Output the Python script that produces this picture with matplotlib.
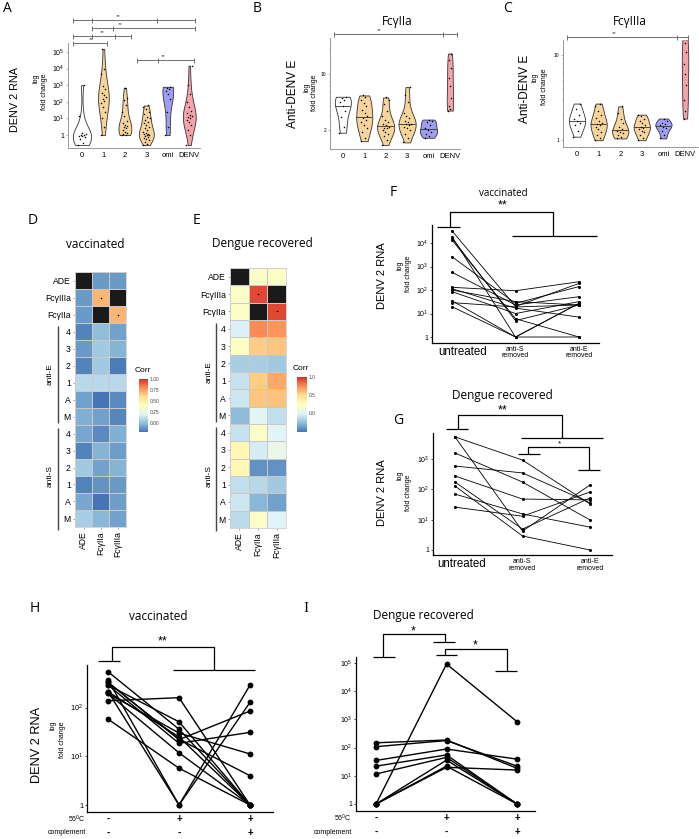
import numpy as np
import matplotlib
matplotlib.use('Agg')
import matplotlib.pyplot as plt
from matplotlib.lines import Line2D
from matplotlib.colors import LinearSegmentedColormap
from matplotlib.transforms import blended_transform_factory

plt.rcParams['font.family'] = ['Liberation Sans', 'DejaVu Sans']
plt.rcParams['mathtext.fontset'] = 'custom'
plt.rcParams['mathtext.rm'] = 'Liberation Sans'
plt.rcParams['mathtext.it'] = 'Liberation Sans:italic'

# ---------------- datos ----------------
grupos = ['0', '1', '2', '3', 'omi', 'DENV']

# A: DENV 2 RNA (fold change)
a_0 = [0.25, 0.35, 0.6, 0.75, 0.85, 0.9, 1.0, 1.0, 1.1, 1.3, 15, 1000]
a_1 = [1, 3, 10, 25, 50, 80, 110, 150, 200, 260, 350, 600, 900, 4500, 9000, 150000]
a_2 = [1, 1, 1.1, 1.3, 1.6, 2, 2.5, 3, 3.5, 4, 5, 7, 15, 25, 60, 120, 160, 700]
a_3 = [0.25, 0.3, 0.4, 0.5, 0.6, 0.7, 0.8, 0.9, 1, 1, 1.1, 1.2, 1.4, 1.6, 2, 2.5,
       3, 4, 5, 6, 8, 10, 13, 18, 25, 35, 50, 60]
a_omi = [1, 3, 25, 150, 300, 450, 600, 700, 800]
a_denv = [0.25, 1, 2, 4, 6, 8, 10, 12, 14, 16, 20, 30, 50, 100, 300, 1100, 15000]

# B: anti-DENV E, FcyIIa
b_0 = [1.85, 2.2, 2.9, 3.5, 4.0, 4.5, 4.8, 5.0, 5.2]
b_1 = [1.45, 1.6, 1.9, 2.1, 2.3, 2.5, 2.7, 2.8, 3.0, 3.3, 3.6, 4.0, 4.4, 4.8, 5.2, 5.4]
b_2 = [1.3, 1.5, 1.7, 1.8, 1.9, 2.0, 2.1, 2.15, 2.2, 2.3, 2.4, 2.5, 2.7, 3.0, 3.5, 4.2, 4.8, 5.1]
b_3 = [1.4, 1.6, 1.8, 2.0, 2.1, 2.2, 2.3, 2.35, 2.4, 2.5, 2.6, 2.8, 3.0, 3.3, 4.5, 5.5, 6.9]
b_omi = [1.6, 1.7, 1.8, 1.9, 2.0, 2.1, 2.3, 2.5, 2.6, 2.7]
b_denv = [3.5, 3.7, 4.0, 5.0, 7.0, 9.0, 12.0, 15.0, 18.0]

# C: anti-DENV E, FcyIIIa
c_0 = [1.1, 1.3, 1.5, 1.6, 1.7, 1.8, 2.0, 2.3, 2.7]
c_1 = [1.0, 1.05, 1.15, 1.25, 1.35, 1.45, 1.5, 1.55, 1.6, 1.7, 1.85, 2.0, 2.2, 2.5, 2.7]
c_2 = [1.05, 1.1, 1.15, 1.2, 1.25, 1.3, 1.35, 1.45, 1.6, 1.8, 2.1, 2.5]
c_3 = [1.0, 1.05, 1.15, 1.25, 1.3, 1.35, 1.4, 1.45, 1.5, 1.6, 1.7, 1.8, 1.95, 2.0]
c_omi = [1.05, 1.15, 1.3, 1.4, 1.45, 1.5, 1.55, 1.6, 1.7, 1.8]
c_denv = [1.8, 2.2, 3.0, 4.5, 6.0, 8.0, 11.0, 14.0, 15.5]

# D / E: correlaciones (NaN = diagonal negra)
filas_heat = ['ADE', 'FcγIIIa', 'FcγIIa', '4', '3', '2', '1', 'A', 'M',
              '4', '3', '2', '1', 'A', 'M']
cols_heat = ['ADE', 'FcγIIa', 'FcγIIIa']
nan = np.nan
corr_vac = [[nan, -0.1, -0.1],
            [-0.1, 0.7, nan],
            [-0.1, nan, 0.7],
            [-0.16, 0.0, -0.08],
            [-0.1, 0.04, -0.03],
            [-0.16, 0.04, -0.18],
            [0.1, 0.1, 0.1],
            [-0.08, -0.2, -0.14],
            [-0.04, -0.08, -0.15],
            [-0.06, -0.14, -0.04],
            [-0.16, -0.03, -0.09],
            [0.04, -0.08, -0.03],
            [-0.16, -0.12, -0.1],
            [-0.06, -0.2, -0.09],
            [0.06, -0.02, -0.08]]
corr_den = [[nan, 0.2, 0.2],
            [0.2, 0.93, nan],
            [0.2, nan, 0.93],
            [-0.03, 0.75, 0.72],
            [0.22, 0.55, 0.57],
            [-0.2, -0.2, -0.22],
            [-0.1, 0.55, 0.66],
            [-0.08, 0.57, 0.58],
            [-0.28, 0.0, -0.12],
            [-0.1, 0.2, 0.0],
            [0.3, -0.05, 0.05],
            [0.3, -0.43, -0.43],
            [-0.12, -0.15, -0.22],
            [-0.08, -0.3, -0.38],
            [-0.14, 0.2, -0.02]]
sig_celdas = [(1, 1), (2, 2)]

# F / G: remocion de anticuerpos
trat = ['untreated', 'anti-S\nremoved', 'anti-E\nremoved']
f_untreated = [33000, 18600, 16000, 13400, 2600, 570, 130, 114, 100, 85, 35, 29, 19.5]
f_antiS = [20, 1, 5, 6, 27, 23, 93, 17, 32, 10, 1, 19, 1]
f_antiE = [190, 27, 23, 1, 140, 52, 225, 7, 23, 32, 27, 23, 1]
g_untreated = [5400, 5400, 1590, 590, 277, 175, 129, 70, 26]
g_antiS = [930, 4.2, 175, 350, 48, 4.9, 2.9, 15.5, 13]
g_antiE = [33, 140, 9.8, 36, 45, 52, 1, 5.7, 82]

# H / I: 56C y complemento
fila_56 = ['-', '+', '+']
fila_comp = ['-', '-', '+']
h_ctrl = [545, 370, 330, 290, 290, 212, 195, 195, 138, 330, 58, 212]
h_56 = [36, 1, 22, 51, 18.5, 1, 30, 11.8, 160, 22.4, 5.7, 25]
h_comp = [1, 290, 85, 1, 31, 128, 11.2, 1, 1, 4, 1, 1]
i_ctrl = [1, 148, 108, 35, 22, 11.6, 1, 1, 1]
i_56 = [92000, 186, 178, 89, 55, 45, 22, 36, 20]
i_comp = [830, 18.5, 22, 39, 1, 1, 1, 1, 16]

# ---------------- figura ----------------
W, H = 699, 839
fig = plt.figure(figsize=(W / 100, H / 100), dpi=100)


def px_axes(l, t, r, b):
    return fig.add_axes([l / W, 1 - b / H, (r - l) / W, (b - t) / H])


def ftext(x, y, s, **kw):
    kw.setdefault('ha', 'center')
    kw.setdefault('va', 'center')
    fig.text(x / W, 1 - y / H, s, **kw)


def fline(xs, ys, color='k', lw=0.9):
    fig.add_artist(Line2D([x / W for x in xs], [1 - y / H for y in ys],
                          color=color, lw=lw, solid_capstyle='butt'))


def barra_gris(y, x0, x1, marcas, star_x):
    fline([x0, x1], [y, y], color='#707070', lw=0.7)
    for m in marcas:
        fline([m, m], [y - 2.5, y + 2.5], color='#707070', lw=0.7)
    ftext(star_x, y - 3, '**', fontsize=4.5, color='#555555')


def sup(n):
    return '1' if n == 0 else r'$\mathregular{10^{%d}}$' % n


def ylab3(x, y, big, fs_big, dx1, dx2, y1, y2, fs_small=5):
    ftext(x, y, big, rotation=90, fontsize=fs_big)
    ftext(x + dx1, y1, 'log', rotation=90, fontsize=fs_small)
    ftext(x + dx2, y2, 'fold change', rotation=90, fontsize=fs_small)


col_vio = ['white', '#f6d49a', '#f6d49a', '#f6d49a', '#9e9ef2', '#f4a3ab']


def violines(ax, datos, anchos, medianas):
    logd = [np.log10(d) for d in datos]
    pos = np.arange(len(datos))
    parts = ax.violinplot(logd, positions=pos, widths=anchos, showextrema=False)
    for body, c in zip(parts['bodies'], col_vio):
        body.set_facecolor(c)
        body.set_edgecolor('#333333')
        body.set_linewidth(0.6)
        body.set_alpha(1)
    for i, (body, d) in enumerate(zip(parts['bodies'], logd)):
        if medianas and i < 5:
            ln, = ax.plot([i - 0.6, i + 0.6], [np.median(d)] * 2, color='#333333', lw=0.6)
            ln.set_clip_path(body.get_paths()[0], ax.transData)
        off = ((np.arange(len(d)) * 0.618) % 1 - 0.5) * anchos[i] * 0.45
        ax.scatter(i + off, d, s=1.2, color='k', zorder=3, linewidths=0)
    ax.set_xticks(pos, grupos)
    for s in ['top', 'right']:
        ax.spines[s].set_visible(False)
    for s in ['left', 'bottom']:
        ax.spines[s].set_color('#888888')
        ax.spines[s].set_linewidth(0.6)
    ax.tick_params(axis='x', length=0, labelsize=5.5, pad=3)
    ax.tick_params(axis='y', length=1.5, width=0.4, color='#888888', pad=1)
    ax.tick_params(axis='y', which='minor', length=1, width=0.3, color='#888888')


# ---- A ----
axA = px_axes(68, 43, 200, 148)
violines(axA, [a_0, a_1, a_2, a_3, a_omi, a_denv], [0.85, 0.5, 0.6, 0.7, 0.5, 0.6], False)
axA.set_xlim(-0.65, 5.5)
axA.set_ylim(-0.78, 5.54)
axA.set_yticks(range(6), [sup(n) for n in range(6)])
axA.tick_params(axis='y', labelsize=5)
ftext(7, 9, 'A', fontsize=10, family='Open Sans')
ylab3(15, 100, 'DENV 2 RNA', 7.8, 21, 29, 78, 92)
barra_gris(20, 73, 195, [73, 92, 157, 195], 118)
barra_gris(28, 92, 195, [92, 113, 195], 120)
barra_gris(36, 73, 131, [73, 92, 115, 131], 102)
barra_gris(43, 73, 107, [73, 107], 91)
barra_gris(60, 137, 194, [137, 158, 194], 163)

# ---- B ----
axB = px_axes(330, 38, 460, 149)
violines(axB, [b_0, b_1, b_2, b_3, b_omi, b_denv], [0.75, 0.75, 0.8, 0.8, 0.8, 0.3], True)
axB.set_xlim(-0.6, 5.47)
axB.set_ylim(0.064, 1.45)
axB.set_yticks([np.log10(2), 1], ['2', '10'])
axB.set_yticks(np.log10([2, 3, 4, 5, 6, 7, 8, 9, 20]), minor=True)
axB.tick_params(axis='y', labelsize=3.5)
ftext(257, 8, 'B', fontsize=10, family='Open Sans')
ftext(397, 21, 'FcγIIa', fontsize=8.5, family='Open Sans')
ylab3(293, 94, 'Anti-DENV E', 8.5, 14, 22, 87, 93)
barra_gris(34, 334, 457, [334, 443, 457], 379)

# ---- C ----
axC = px_axes(563, 40, 698, 147)
violines(axC, [c_0, c_1, c_2, c_3, c_omi, c_denv], [0.75, 0.75, 0.75, 0.75, 0.75, 0.3], True)
axC.set_xlim(-0.65, 5.6)
axC.set_ylim(-0.08, 1.18)
axC.set_yticks([0, 1], ['1', '10'])
axC.set_yticks(np.log10([2, 3, 4, 5, 6, 7, 8, 9]), minor=True)
axC.tick_params(axis='y', labelsize=3.5)
ftext(507, 8, 'C', fontsize=10, family='Open Sans')
ftext(630, 22, 'FcγIIIa', fontsize=8.5, family='Open Sans')
ylab3(525, 89, 'Anti-DENV E', 8.5, 10, 20, 77, 87)
barra_gris(37, 567, 688, [567, 677, 688], 614)

# ---- D / E heatmaps ----
cmap = LinearSegmentedColormap.from_list(
    'corr', ['#4575b4', '#91bfdb', '#e0f3f8', '#ffffbf', '#fee090', '#fc8d59', '#d73027'])
cmap.set_bad('#1a1a1a')


def heatmap(box, valores, vmin, vmax, cbox, cticks, clabels, xline, xlab):
    ax = px_axes(*box)
    data = np.ma.masked_invalid(np.array(valores, float))
    m = ax.pcolormesh(data, cmap=cmap, vmin=vmin, vmax=vmax,
                      edgecolors='#c8c8c8', linewidth=0.4)
    for r, c in sig_celdas:
        ax.scatter(c + 0.5, r + 0.5, s=1.2, color='k', linewidths=0, zorder=3)
    ax.set_xlim(0, 3)
    ax.set_ylim(15, 0)
    ax.set_xticks(np.arange(3) + 0.5, cols_heat, rotation=90)
    ax.set_yticks(np.arange(15) + 0.5, filas_heat)
    ax.tick_params(labelsize=6.2, length=1.5, width=0.4, color='#666666', pad=1.5)
    for s in ax.spines.values():
        s.set_color('#d0d0d0')
        s.set_linewidth(0.6)
    cax = px_axes(*cbox)
    cb = fig.colorbar(m, cax=cax)
    cb.outline.set_visible(False)
    cb.set_ticks(cticks, labels=clabels)
    cax.tick_params(labelsize=3.5, length=0, pad=1.5, labelcolor='#444444')
    ftext((cbox[0] + cbox[2]) / 2 - 1, cbox[1] - 8, 'Corr', fontsize=6)
    top, bot = box[1], box[3]
    rh = (bot - top) / 15
    fline([xline, xline], [top + 3 * rh + 3, top + 9 * rh - 2], color='#444444', lw=1.0)
    fline([xline, xline], [top + 9 * rh + 3, top + 15 * rh + 3], color='#444444', lw=1.0)
    ftext(xlab, top + 6 * rh, 'anti-E', rotation=90, fontsize=6)
    ftext(xlab, top + 12 * rh, 'anti-S', rotation=90, fontsize=6)
    return ax


heatmap((75, 272, 126, 527), corr_vac, -0.2, 1.0, (139, 379, 148, 432),
        [0, 0.25, 0.5, 0.75, 1.0], ['0.00', '0.25', '0.50', '0.75', '1.00'], 58, 50)
heatmap((230, 268, 286, 528), corr_den, -0.53, 1.0, (297, 377, 307, 432),
        [0, 0.5, 1.0], ['0.0', '0.5', '1.0'], 216, 209)
ftext(33, 220, 'D', fontsize=10, family='Open Sans')
ftext(197, 220, 'E', fontsize=10, family='Open Sans')
ftext(95, 245, 'vaccinated', fontsize=8.5, family='Open Sans')
ftext(262, 243, 'Dengue recovered', fontsize=8.5, family='Open Sans')


# ---- F / G / H / I ----
def pares(ax, series, ms, lw):
    for trio in zip(*series):
        ax.plot([0, 1, 2], trio, color='k', lw=lw, marker='o', ms=ms,
                markeredgewidth=0, zorder=3, clip_on=False)
    ax.set_yscale('log')
    ax.yaxis.set_minor_locator(matplotlib.ticker.NullLocator())
    for s in ['top', 'right']:
        ax.spines[s].set_visible(False)
    for s in ['left', 'bottom']:
        ax.spines[s].set_linewidth(0.9)
    ax.tick_params(axis='y', length=1.5, width=0.5, labelsize=5, pad=1)
    ax.tick_params(axis='x', length=0)


def etiquetas_x(ax, lbls, desplaz):
    # 'untreated' va un poco a la derecha de sus puntos
    ax.set_xticks([])
    tr = blended_transform_factory(ax.transData, ax.transAxes)
    for i, (lbl, fs) in enumerate(zip(lbls, [8.3, 5, 5])):
        dx = desplaz if i == 0 else 0
        ax.text(i + dx, -0.025, lbl, transform=tr, ha='center', va='top',
                fontsize=fs, linespacing=0.9)


axF = px_axes(432, 225, 599, 343)
pares(axF, [f_untreated, f_antiS, f_antiE], 2.2, 0.6)
axF.set_xlim(-0.315, 2.315)
axF.set_ylim(10 ** (-6 / 23.5), 10 ** (112 / 23.5))
axF.set_yticks([10 ** n for n in range(5)], [sup(n) for n in range(5)])
etiquetas_x(axF, trat, 0.17)
ftext(393, 192, 'F', fontsize=10, family='Open Sans')
ftext(503, 193, 'vaccinated', fontsize=7, family='Open Sans')
ftext(503, 205, '**', fontsize=9)
ylab3(382, 276, 'DENV 2 RNA', 8, 18, 26, 265, 274)
fline([437, 460], [227, 227]); fline([450, 450, 553, 553], [227, 212, 212, 236])
fline([512, 597], [236, 236])

axG = px_axes(433, 433, 612, 555)
pares(axG, [g_untreated, g_antiS, g_antiE], 2.2, 0.6)
axG.set_xlim(-0.326, 2.326)
axG.set_ylim(10 ** (-5 / 30.3), 10 ** (117 / 30.3))
axG.set_yticks([10 ** n for n in range(4)], [sup(n) for n in range(4)])
etiquetas_x(axG, trat, 0.1)
ftext(398, 420, 'G', fontsize=10, family='Open Sans')
ftext(502, 395, 'Dengue recovered', fontsize=8.5, family='Open Sans')
ftext(503, 410, '**', fontsize=9)
ylab3(382, 493, 'DENV 2 RNA', 8, 18, 26, 475, 493)
fline([446, 468], [429, 429]); fline([458, 458, 562, 562], [429, 415, 415, 438])
fline([521, 603], [438, 438])
fline([518, 540], [454, 454]); fline([528, 528, 589, 589], [454, 447, 447, 470])
fline([578, 600], [470, 470])
ftext(559, 444, '*', fontsize=6)


def filas_cond(ax, xr, y1, y2):
    tr = blended_transform_factory(ax.transData, fig.transFigure)
    for i, (a, b) in enumerate(zip(fila_56, fila_comp)):
        ax.text(i, 1 - y1 / H, a, transform=tr, ha='center', va='center', fontsize=7, fontweight='bold')
        ax.text(i, 1 - y2 / H, b, transform=tr, ha='center', va='center', fontsize=7, fontweight='bold')
    ftext(xr, y1, '56$^{0}$C', ha='right', fontsize=5)
    ftext(xr, y2, 'complement', ha='right', fontsize=5)


axH = px_axes(87, 665, 273, 812)
pares(axH, [h_ctrl, h_56, h_comp], 4.2, 1.0)
axH.set_xlim(-0.296, 2.324)
axH.set_ylim(10 ** (-7 / 48.7), 10 ** (140 / 48.7))
axH.set_yticks([1, 10, 100], [sup(n) for n in range(3)])
axH.set_xticks([])
axH.tick_params(axis='y', labelsize=5.5)
filas_cond(axH, 86, 819, 833)
ftext(35, 608, 'H', fontsize=10, family='Open Sans')
ftext(158, 617, 'vaccinated', fontsize=8.5, family='Open Sans')
ftext(163, 641, '**', fontsize=9)
ylab3(37, 745, 'DENV 2 RNA', 9.2, 16, 26, 725, 740)
fline([98, 120], [661, 661]); fline([112, 112, 214, 214], [661, 647, 647, 670])
fline([173, 255], [670, 670])

axI = px_axes(356, 657, 535, 811)
pares(axI, [i_ctrl, i_56, i_comp], 4.2, 1.0)
axI.set_xlim(-0.284, 2.255)
axI.set_ylim(10 ** (-7 / 28.2), 10 ** (147 / 28.2))
axI.set_yticks([10 ** n for n in range(6)], [sup(n) for n in range(6)])
axI.set_xticks([])
filas_cond(axI, 352, 818, 832)
ftext(306, 608, 'I', fontsize=11, family='Liberation Serif')
ftext(423, 616, 'Dengue recovered', fontsize=8.5, family='Open Sans')
fline([373, 395], [657, 657]); fline([383, 383, 445, 445], [657, 634, 634, 642])
fline([433, 455], [642, 642])
ftext(413, 631, '*', fontsize=9)
fline([436, 457], [655, 655]); fline([445, 445, 507, 507], [655, 649, 649, 671])
fline([495, 517], [671, 671])
ftext(475, 645, '*', fontsize=9)

fig.savefig('out.png', dpi=100)
